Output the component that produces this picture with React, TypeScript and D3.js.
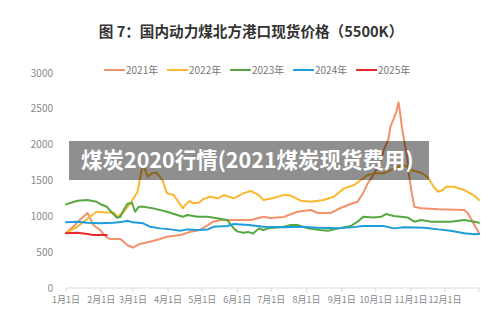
import React from "react";
import * as d3 from "d3";

const title = "图 7：国内动力煤北方港口现货价格（5500K）";
const watermark = "煤炭2020行情(2021煤炭现货费用)";
const seriesNames = ["2021年", "2022年", "2023年", "2024年", "2025年"];
const seriesColors = ["#F2926A", "#FBB72E", "#55A840", "#1E9DD8", "#E8282B"];
const yTicks = [0, 500, 1000, 1500, 2000, 2500, 3000];
const monthTicks = ["01-01", "02-01", "03-01", "04-01", "05-01", "06-01", "07-01", "08-01", "09-01", "10-01", "11-01", "12-01"];

const s2021: [string, number][] = [
  ["01-01", 767], ["01-07", 850], ["01-13", 950], ["01-20", 1046], ["01-25", 880], ["01-31", 809],
  ["02-05", 716], ["02-09", 683], ["02-18", 683], ["02-24", 600], ["03-01", 562], ["03-07", 614],
  ["03-16", 646], ["03-25", 683], ["03-31", 716], ["04-12", 739], ["04-21", 786], ["04-29", 809],
  ["05-11", 925], ["05-17", 949], ["05-30", 949], ["06-13", 949], ["06-24", 995], ["06-30", 976],
  ["07-12", 990], ["07-24", 1064], ["08-05", 1088], ["08-11", 1046], ["08-22", 1046], ["08-31", 1116],
  ["09-09", 1172], ["09-15", 1204], ["09-20", 1330], ["09-24", 1460], ["09-29", 1576], ["10-06", 1800],
  ["10-08", 1925], ["10-12", 2065], ["10-14", 2250], ["10-17", 2370], ["10-19", 2450], ["10-21", 2590],
  ["10-22", 2500], ["10-24", 2250], ["10-26", 2065], ["10-29", 1800], ["10-30", 1604], ["11-02", 1300],
  ["11-04", 1134], ["11-10", 1112], ["11-25", 1098], ["12-18", 1088], ["12-21", 1046], ["12-26", 907],
  ["12-31", 767],
];

const s2022: [string, number][] = [
  ["01-01", 767], ["01-11", 855], ["01-22", 995], ["01-28", 1064], ["02-06", 1055], ["02-12", 1055],
  ["02-15", 995], ["02-20", 1046], ["02-27", 1186], ["03-05", 1340], ["03-09", 1674], ["03-11", 1680],
  ["03-14", 1553], ["03-18", 1604], ["03-22", 1608], ["03-27", 1507], ["03-31", 1320], ["04-06", 1297],
  ["04-10", 1204], ["04-14", 1111], ["04-16", 1158], ["04-20", 1214], ["04-23", 1181], ["04-28", 1190],
  ["05-02", 1240], ["05-08", 1274], ["05-15", 1251], ["05-20", 1297], ["05-29", 1251], ["06-06", 1320],
  ["06-13", 1353], ["06-19", 1307], ["06-24", 1228], ["07-03", 1255], ["07-12", 1300], ["07-18", 1290],
  ["07-27", 1218], ["08-05", 1204], ["08-16", 1228], ["08-25", 1274], ["09-03", 1390], ["09-12", 1437],
  ["09-18", 1507], ["09-24", 1576], ["10-01", 1600], ["10-08", 1600], ["10-14", 1646], ["10-21", 1692],
  ["10-26", 1716], ["11-01", 1646], ["11-10", 1608], ["11-16", 1544], ["11-21", 1413], ["11-25", 1343],
  ["11-29", 1367], ["12-02", 1413], ["12-09", 1413], ["12-18", 1367], ["12-26", 1297], ["12-31", 1228],
];

const s2023: [string, number][] = [
  ["01-01", 1167], ["01-11", 1218], ["01-20", 1228], ["01-28", 1204], ["01-31", 1172], ["02-06", 1134],
  ["02-11", 1042], ["02-15", 981], ["02-18", 995], ["02-20", 1064], ["02-24", 1172], ["02-28", 1190],
  ["03-03", 1064], ["03-06", 1134], ["03-10", 1134], ["03-19", 1111], ["03-31", 1064], ["04-09", 1018],
  ["04-14", 995], ["04-18", 1018], ["04-27", 995], ["05-06", 995], ["05-14", 972], ["05-23", 949],
  ["05-29", 830], ["06-01", 790], ["06-06", 770], ["06-11", 780], ["06-15", 760], ["06-20", 832],
  ["06-24", 809], ["06-28", 832], ["07-09", 846], ["07-18", 879], ["07-24", 879], ["08-02", 832],
  ["08-13", 809], ["08-20", 800], ["08-29", 832], ["09-09", 865], ["09-15", 925], ["09-20", 995],
  ["09-29", 985], ["10-06", 995], ["10-10", 1032], ["10-17", 1004], ["10-29", 985], ["11-04", 925],
  ["11-10", 949], ["11-19", 925], ["12-06", 925], ["12-18", 949], ["12-27", 925], ["12-31", 911],
];

const s2024: [string, number][] = [
  ["01-01", 916], ["01-11", 925], ["01-20", 911], ["01-31", 902], ["02-12", 911], ["02-20", 925],
  ["02-24", 939], ["03-01", 916], ["03-10", 902], ["03-16", 855], ["03-25", 832], ["04-03", 818],
  ["04-12", 800], ["04-18", 818], ["04-27", 809], ["05-06", 818], ["05-11", 855], ["05-23", 865],
  ["05-29", 893], ["06-11", 879], ["06-24", 855], ["07-12", 846], ["07-27", 855], ["08-11", 842],
  ["08-29", 832], ["09-09", 846], ["09-20", 865], ["10-08", 865], ["10-17", 832], ["10-26", 846],
  ["11-13", 842], ["11-25", 818], ["12-06", 800], ["12-18", 763], ["12-27", 749], ["12-31", 753],
];

const s2025: [string, number][] = [
  ["01-01", 763], ["01-11", 772], ["01-20", 753], ["01-25", 739], ["02-06", 739],
];

const allSeries = [s2021, s2022, s2023, s2024, s2025];

const parse = (md: string) => d3.timeParse("%Y-%m-%d")("2023-" + md) as Date;

const W = 500;
const H = 321;
const FONT = "'Noto Sans CJK SC', 'Noto Sans', sans-serif";

export default function App() {
  const x = d3.scaleTime().domain([parse("01-01"), parse("12-31")]).range([66, 479]);
  const y = d3.scaleLinear().domain([0, 3000]).range([288, 73]);
  const line = d3
    .line<[string, number]>()
    .x((d) => x(parse(d[0])))
    .y((d) => y(d[1]))
    .curve(d3.curveLinear);

  return (
    <svg width={W} height={H} style={{ position: "absolute", left: 0, top: 0, background: "#fff" }} fontFamily={FONT}>
      <rect x={0} y={0} width={W} height={H} fill="#fff" />
      <text x={251} y={37} textAnchor="middle" fontSize={14.6} fontWeight="bold" fill="#333">
        {title}
      </text>
      {/* legend */}
      {seriesNames.map((n, i) => (
        <g key={n} transform={`translate(${104 + i * 63},70)`}>
          <line x1={0} x2={21} y1={0} y2={0} stroke={seriesColors[i]} strokeWidth={2} />
          <text x={22} y={3.5} fontSize={10} fill="#777">
            {n}
          </text>
        </g>
      ))}
      {/* y axis labels */}
      {yTicks.map((t) => (
        <text key={t} x={53} y={y(t) + 3.5} textAnchor="end" fontSize={10} fill="#888">
          {t}
        </text>
      ))}
      {/* x axis */}
      <line x1={66} x2={479} y1={288} y2={288} stroke="#d9d9d9" strokeWidth={1} />
      {monthTicks.concat(["12-31"]).map((m) => (
        <line key={"t" + m} x1={x(parse(m))} x2={x(parse(m))} y1={288} y2={292} stroke="#d9d9d9" />
      ))}
      {monthTicks.map((m) => {
        const d = parse(m);
        return (
          <text key={m} x={x(d)} y={303} textAnchor="middle" fontSize={9} fill="#888">
            {`${d.getMonth() + 1}月1日`}
          </text>
        );
      })}
      {/* lines */}
      {allSeries.map((s, i) => (
        <path
          key={i}
          d={line(s) || ""}
          fill="none"
          stroke={seriesColors[i]}
          strokeWidth={2}
          strokeLinejoin="round"
          strokeLinecap="round"
        />
      ))}
      {/* watermark */}
      <rect x={69} y={141} width={360} height={39} fill="rgba(0,0,0,0.44)" />
      <text x={81} y={167.5} fontSize={21.5} fontWeight="bold" fill="#fff">
        {watermark}
      </text>
    </svg>
  );
}
